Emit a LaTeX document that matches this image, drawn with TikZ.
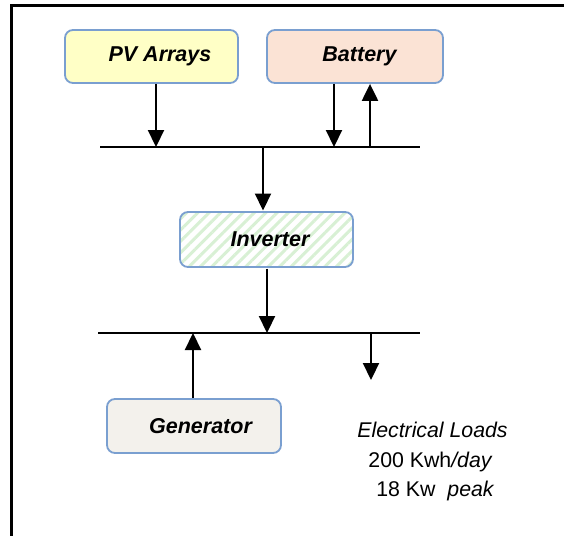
\documentclass[tikz,border=0pt]{standalone}
\usepackage{fontspec}
\setmainfont{Liberation Sans}
\usetikzlibrary{arrows.meta,patterns.meta}
\definecolor{boxline}{HTML}{7A9FD0}
\definecolor{pvfill}{HTML}{FFFFC6}
\definecolor{batfill}{HTML}{FBE3D5}
\definecolor{genfill}{HTML}{F3F1EC}
\definecolor{hatch}{HTML}{D8F0D4}
\tikzset{
  box/.style={draw=boxline, line width=1.8pt, rounded corners=8pt, inner sep=0pt,
    font=\fontsize{21.5}{25}\selectfont\bfseries\itshape},
  bus/.style={line width=2pt},
  flow/.style={line width=2.2pt, -{Triangle[width=16pt,length=17pt]}},
  loadtxt/.style={font=\fontsize{21.3}{25}\selectfont, anchor=base, inner sep=0pt}
}
\begin{document}
\begin{tikzpicture}[x=1pt,y=-1pt]
\useasboundingbox (0,0) rectangle (564,535);
\fill[white] (0,0) rectangle (564,535);
\draw[line width=3pt] (11,540) -- (11,6) -- (570,6);
% boxes
\node[box, fill=pvfill, minimum width=173pt, minimum height=53pt] (pv) at (151.5,56.5) {\hspace*{17pt}PV Arrays};
\node[box, fill=batfill, minimum width=176pt, minimum height=53pt] (bat) at (355,56.5) {\hspace*{9pt}Battery};
\node[box, preaction={fill=white}, pattern={Lines[angle=45,distance=8pt,line width=3pt]}, pattern color=hatch, minimum width=173pt, minimum height=55pt] (inv) at (266.5,239.5) {\hspace*{7pt}Inverter};
\node[box, fill=genfill, minimum width=174pt, minimum height=54pt] (gen) at (194,426) {\hspace*{13pt}Generator};
% buses
\coordinate (b1l) at (100,147);
\coordinate (b1r) at (420,147);
\coordinate (b2l) at (98,333);
\coordinate (b2r) at (420,333);
\draw[bus] (b1l) -- (b1r);
\draw[bus] (b2l) -- (b2r);
% connectors
\coordinate (pvin) at (156,147);
\coordinate (batin) at (334,147);
\coordinate (batout) at (370,147);
\coordinate (invtop) at (263,147);
\coordinate (invbot) at (267,333);
\coordinate (genin) at (193,333);
\coordinate (loadtop) at (371,333);
\coordinate (load) at (371,380);
\draw[flow] (pv.south -| pvin) -- (pvin);
\draw[flow] (bat.south -| batin) -- (batin);
\draw[flow] (batout) -- (bat.south -| batout);
\draw[flow] (invtop) -- (inv.north -| invtop);
\draw[flow] (inv.south -| invbot) -- (invbot);
\draw[flow] (gen.north -| genin) -- (genin);
\draw[flow] (loadtop) -- (load);
% load text
\node[loadtxt] (l1) at (432.5,437) {\itshape Electrical Loads};
\node[loadtxt] (l2) at (430,467) {200 Kwh\itshape/day};
\node[loadtxt] (l3) at (435,496) {18 Kw\ \ \itshape peak};
\end{tikzpicture}
\end{document}
